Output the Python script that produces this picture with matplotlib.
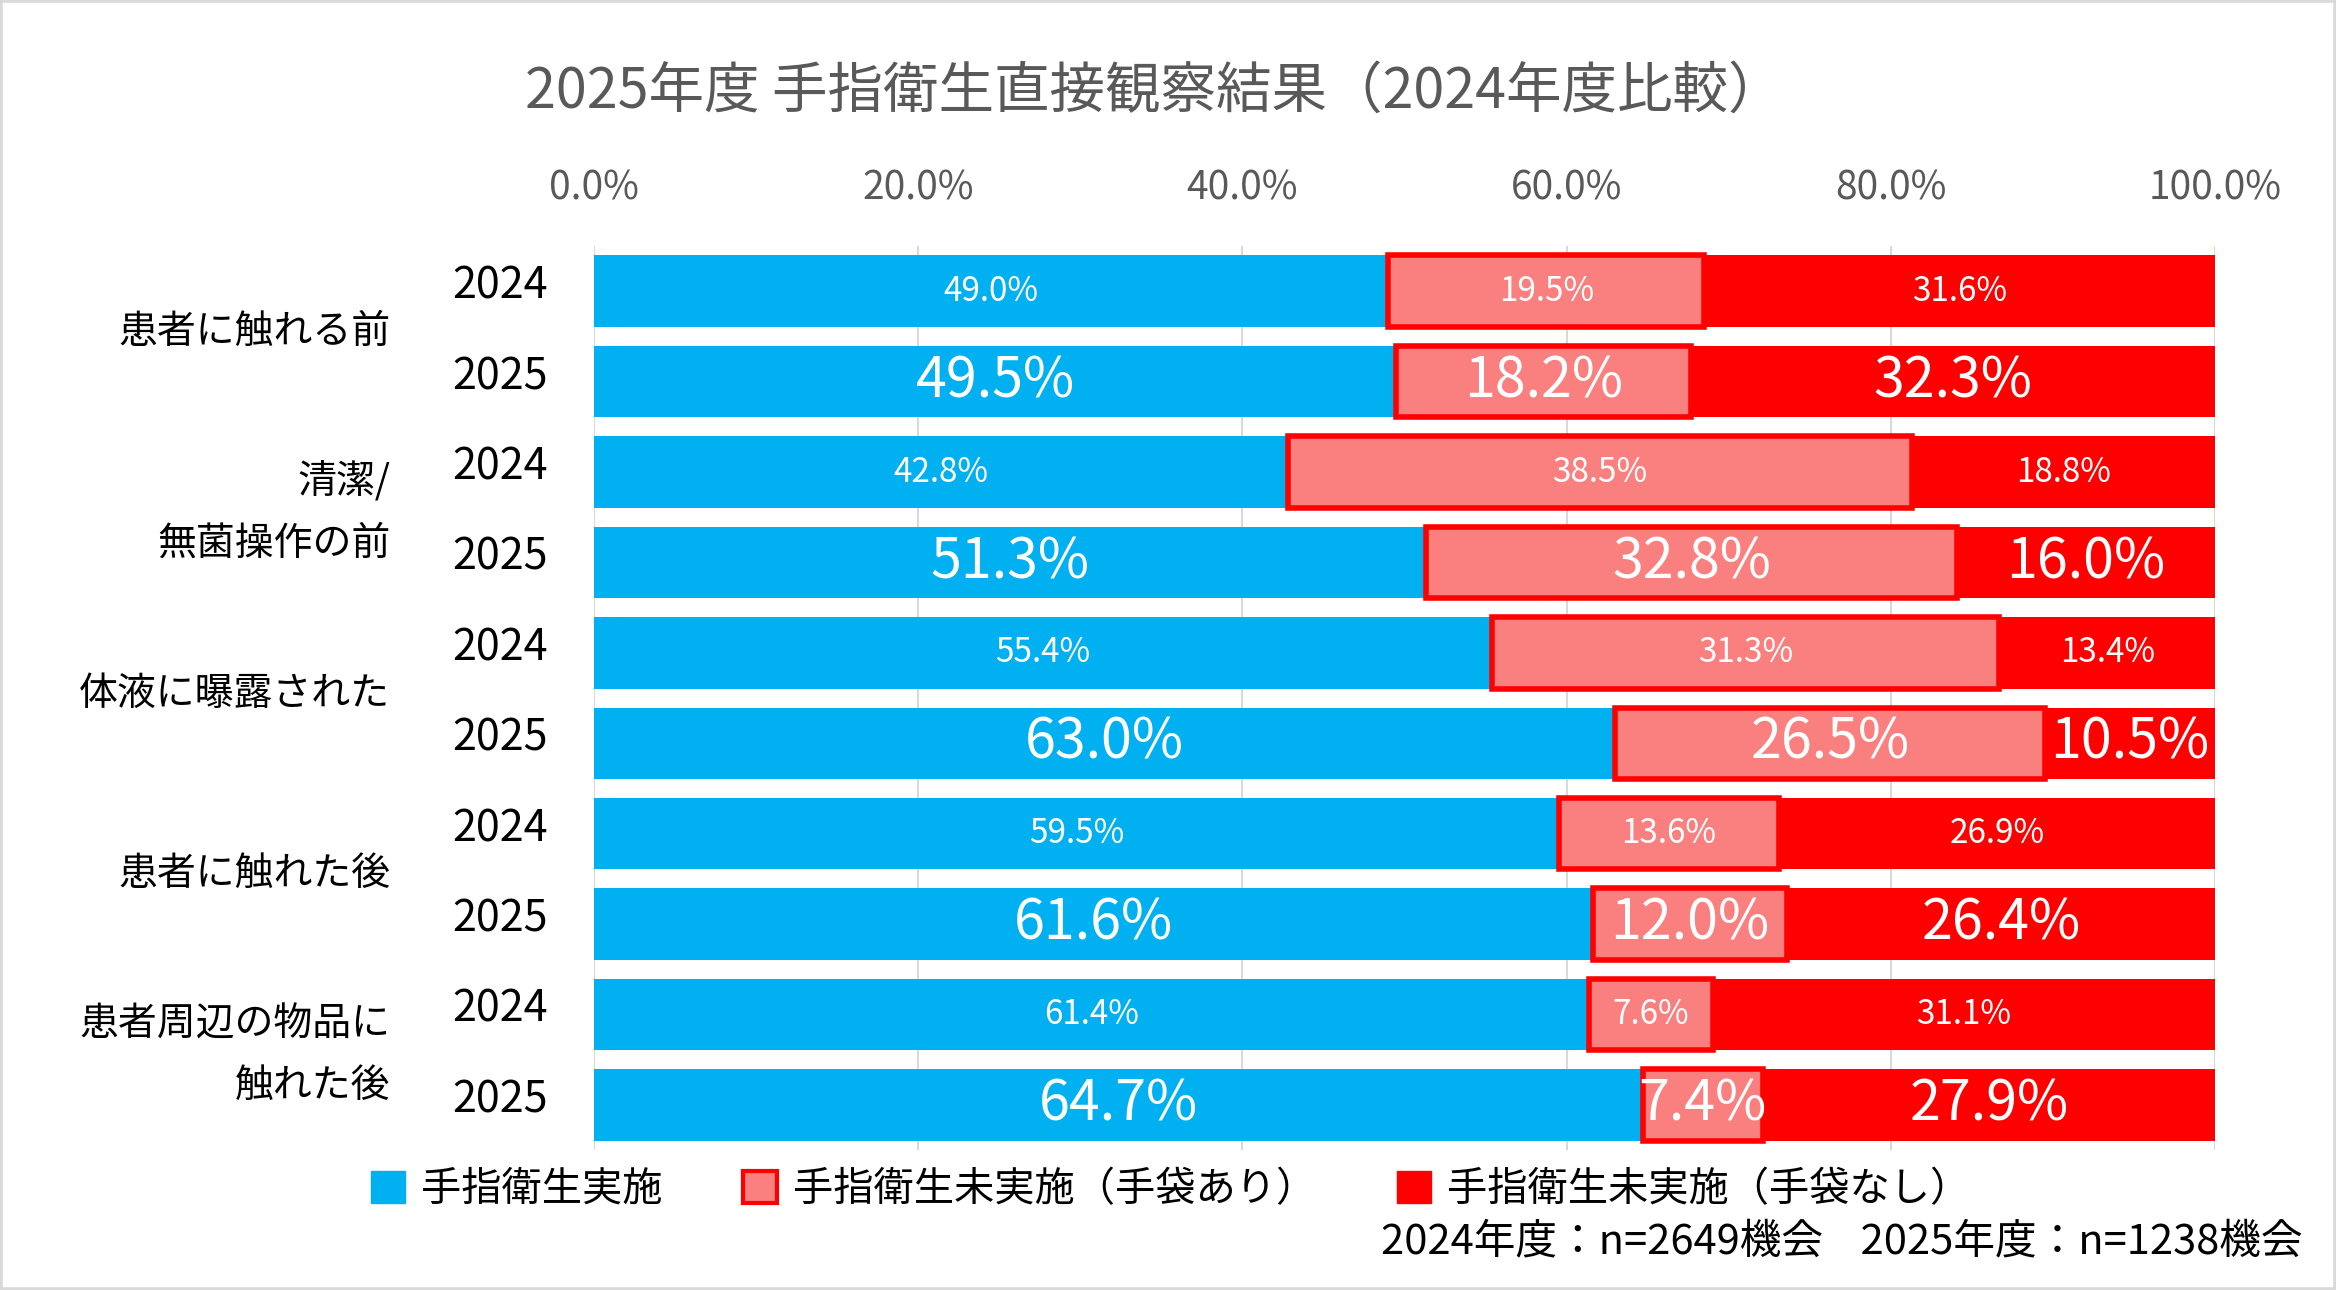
import matplotlib
matplotlib.use('Agg')
import matplotlib.pyplot as plt
import matplotlib.patches as patches
from matplotlib.ticker import PercentFormatter
import matplotlib.transforms as mtransforms
import numpy as np

plt.rcParams['font.family'] = ['Noto Sans CJK JP', 'DejaVu Sans']

# データ
categories = ['患者に触れる前', '清潔/\n無菌操作の前', '体液に曝露された', '患者に触れた後', '患者周辺の物品に\n触れた後']
years = ['2024', '2025']
series_names = ['手指衛生実施', '手指衛生未実施（手袋あり）', '手指衛生未実施（手袋なし）']

done_2024 = [49.0, 42.8, 55.4, 59.5, 61.4]
glove_2024 = [19.5, 38.5, 31.3, 13.6, 7.6]
noglove_2024 = [31.6, 18.8, 13.4, 26.9, 31.1]

done_2025 = [49.5, 51.3, 63.0, 61.6, 64.7]
glove_2025 = [18.2, 32.8, 26.5, 12.0, 7.4]
noglove_2025 = [32.3, 16.0, 10.5, 26.4, 27.9]

title = '2025年度 手指衛生直接観察結果（2024年度比較）'
note = '2024年度：n=2649機会    2025年度：n=1238機会'

# スタイル
BLUE = '#00B0F0'
PINK = '#FA8080'
RED = '#FF0000'
GRAY_TXT = '#595959'
GRID = '#D9D9D9'
BAR_H = 0.79

fig = plt.figure(figsize=(23.36, 12.9), dpi=100)
ax = fig.add_axes([0.2543, 0.1085, 0.6939, 0.7008])

n = len(categories)
rows = {
    '2024': (np.arange(n) * 2, done_2024, glove_2024, noglove_2024, 24),
    '2025': (np.arange(n) * 2 + 1, done_2025, glove_2025, noglove_2025, 40),
}

trans = mtransforms.blended_transform_factory(ax.transAxes, ax.transData)

for yr, (ypos, done, glove, noglove, fs) in rows.items():
    d = np.array(done) / 100
    g = np.array(glove) / 100
    ng = np.array(noglove) / 100
    b1 = ax.barh(ypos, d, height=BAR_H, color=BLUE, zorder=2)
    b2 = ax.barh(ypos, g, left=d, height=BAR_H, color=PINK, edgecolor=RED,
                 linewidth=4, zorder=3)
    b3 = ax.barh(ypos, ng, left=d + g, height=BAR_H, color=RED, zorder=2)
    for cont, vals in ((b1, done), (b2, glove), (b3, noglove)):
        ax.bar_label(cont, labels=[f'{v:.1f}%' for v in vals], label_type='center',
                     color='white', fontsize=fs, zorder=5)
    # 年ラベル
    for y in ypos:
        ax.text(-0.0284, y - 0.05, yr, transform=trans, ha='right', va='center',
                fontsize=31, color='black')

# 区分ラベル
for i, cat in enumerate(categories):
    ax.text(-0.1258, i * 2 + 0.45, cat, transform=trans, ha='right', va='center',
            multialignment='right', fontsize=28, linespacing=1.7, color='black')

ax.set_xlim(0, 1)
ax.set_ylim(2 * n - 0.5, -0.5)
ax.xaxis.tick_top()
ax.set_xticks(np.arange(0, 1.01, 0.2))
ax.xaxis.set_major_formatter(PercentFormatter(1.0, decimals=1))
ax.tick_params(axis='x', length=0, pad=27, labelsize=28, labelcolor=GRAY_TXT)
ax.set_yticks([])
for s in ax.spines.values():
    s.set_visible(False)
ax.grid(True, axis='x', color=GRID, linewidth=1.5, zorder=0)
ax.set_axisbelow(True)

fig.text(0.494, 0.929, title, ha='center', va='center', fontsize=40, color=GRAY_TXT)

handles = [
    patches.Patch(facecolor=BLUE, edgecolor=BLUE),
    patches.Patch(facecolor=PINK, edgecolor=RED, linewidth=3),
    patches.Patch(facecolor=RED, edgecolor=RED),
]
fig.legend(handles, series_names, loc='center left', bbox_to_anchor=(0.15, 0.078),
           ncol=3, frameon=False, fontsize=29, handlelength=0.85, handleheight=0.85,
           handletextpad=0.4, columnspacing=2.0, borderpad=0)

fig.text(0.9855, 0.037, note, ha='right', va='center', fontsize=30, color='black')

fig.patches.append(patches.Rectangle((0, 0), 1, 1, transform=fig.transFigure,
                                     fill=False, edgecolor=GRID, linewidth=4))

fig.savefig('out.png', dpi=100, facecolor='white')
